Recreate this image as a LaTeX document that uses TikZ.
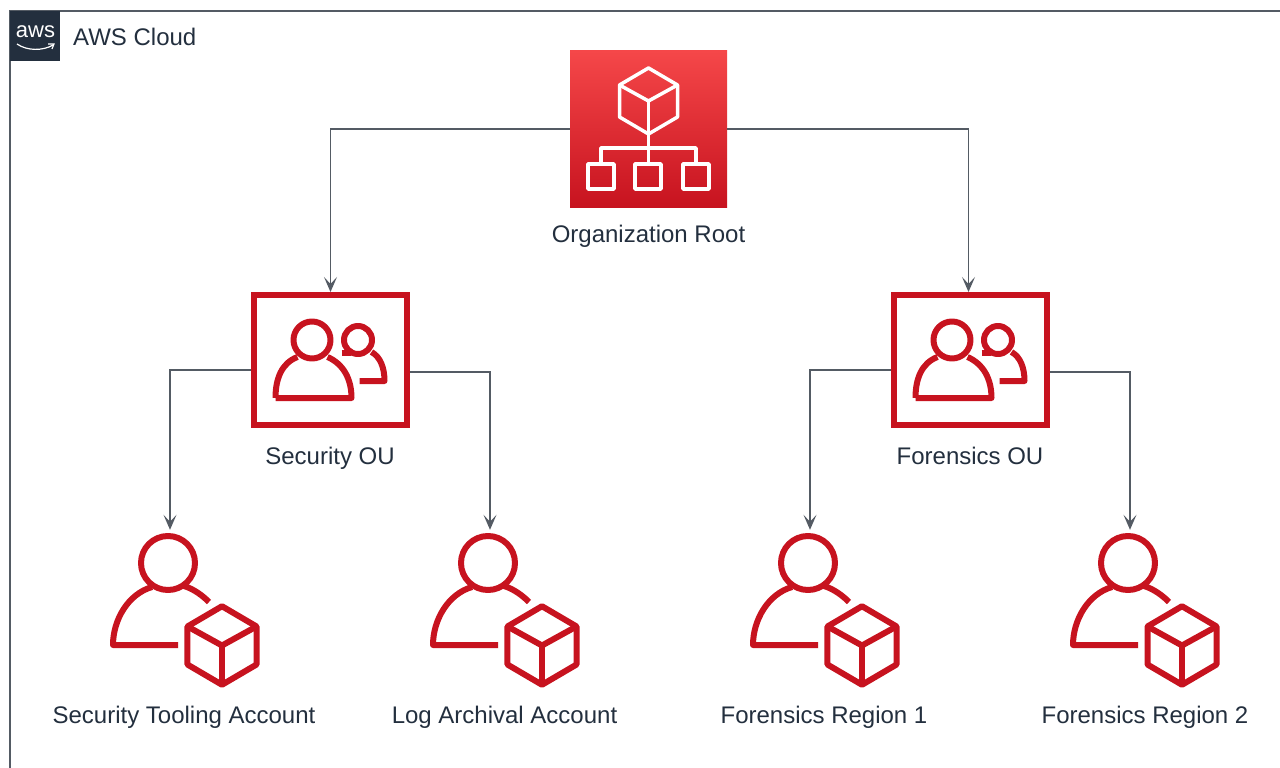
\documentclass[tikz,border=0pt]{standalone}
\usepackage{fontspec}
\setmainfont{Liberation Sans}
\usetikzlibrary{arrows.meta}
\definecolor{awsink}{HTML}{232F3E}
\definecolor{awsline}{HTML}{545B64}
\definecolor{awsred}{HTML}{C7131F}
\definecolor{awsredtop}{HTML}{F54749}
\tikzstyle{iconline} = [awsred,line width=6pt,line join=round]
\tikzstyle{iconlabel} = [anchor=base,inner sep=0pt,text=awsink,font=\fontsize{24}{28}\selectfont]
\tikzstyle{link} = [awsline,line width=1.3pt,-{Stealth[length=15pt,width=13pt,inset=7pt]}]
\newcommand{\cubeicon}[2][]{
 \begin{scope}[shift={(#2)},#1]
  \draw (0,-33) -- (29,-16) -- (29,16) -- (0,33) -- (-29,16) -- (-29,-16) -- cycle;
  \draw (-29,-16) -- (0,0) -- (29,-16);
  \draw (0,0) -- (0,33);
 \end{scope}
}
\newcommand{\ouicon}[2]{
 \node (#1) [draw=awsred,line width=6pt,minimum width=153pt,minimum height=130pt,inner sep=0pt] at (#2) {};
 \begin{scope}[shift={(#2)},iconline]
  \draw (-18.5,-20) circle (18.5);
  \draw (-55,38) -- (21,38) .. controls (21,19) and (13,4) .. (-3,-3);
  \draw (-55,38) .. controls (-55,19) and (-49,3) .. (-33,-3);
  \draw (27.5,-20) circle (14);
  \draw (11,-7) -- (20,-7);
  \draw (41,-8) .. controls (50,-3) and (54,8) .. (54,21) -- (29,21);
 \end{scope}
}
\newcommand{\accounticon}[2]{
 \node (#1) [minimum width=30pt,minimum height=158pt,inner sep=0pt] at (#2) {};
 \begin{scope}[shift={(#2)},iconline]
  \draw (-2,-46) circle (27);
  \draw (8,36) -- (-57,36) .. controls (-57,11) and (-42,-15) .. (-18,-22);
  \draw (14,-23) .. controls (24,-20) and (33,-13) .. (39,-7);
  \cubeicon[scale=1.19]{52,36.5}
 \end{scope}
}
\begin{document}
\begin{tikzpicture}[x=1pt,y=-1pt]
  \useasboundingbox (0,0) rectangle (1280,768);

  % cloud frame
  \draw[awsline,line width=2pt] (10,768) -- (10,11) -- (1280,11);
  \node (logo) [fill=awsink,minimum size=50pt,inner sep=0pt] at (35,36) {};
  \node (logotext) [anchor=base,inner sep=0pt,text=white,font=\fontsize{22}{24}\selectfont] at (35.5,38) {aws};
  \draw[white,line width=1.2pt] (17,44) .. controls (27,51) and (43,51) .. (53,45);
  \draw[white,line width=1.2pt] (48,44) -- (54,44) -- (52,49);
  \node[iconlabel,anchor=base west] (cloudlabel) at (73,46) {AWS Cloud};

  % organization root
  \node (root) [top color=awsredtop,bottom color=awsred,minimum width=157pt,minimum height=156pt,inner sep=0pt] at (648.5,129) {};
  \begin{scope}[white,line width=3.5pt,line join=round]
   \cubeicon{648.5,101}
   \draw (648.5,134) -- (648.5,163);
   \draw (601,163) -- (601,148) -- (696,148) -- (696,163);
   \draw (588,164) rectangle (614,189);
   \draw (635,164) rectangle (661,189);
   \draw (683,164) rectangle (709,189);
  \end{scope}
  \node[iconlabel] (rootlabel) at (648.5,242) {Organization Root};

  % organizational units
  \ouicon{secou}{330.5,360}
  \ouicon{forou}{970.5,360}
  \node[iconlabel] (seclabel) at (330,464) {Security OU};
  \node[iconlabel] (forlabel) at (970,464) {Forensics OU};

  % accounts
  \accounticon{tooling}{170,609}
  \accounticon{logs}{490,609}
  \accounticon{regionone}{810,609}
  \accounticon{regiontwo}{1130,609}
  \node[iconlabel] (toolinglabel) at (184,723) {Security Tooling Account};
  \node[iconlabel] (logslabel) at (504.5,723) {Log Archival Account};
  \node[iconlabel] (regiononelabel) at (824,723) {Forensics Region 1};
  \node[iconlabel] (regiontwolabel) at (1145,723) {Forensics Region 2};

  % links
  \draw[link] (root.west) -| (secou.north);
  \draw[link] (root.east) -| ([xshift=-2pt]forou.north);
  \draw[link] ([yshift=-10pt]secou.west) -| (tooling.north);
  \draw[link] ([yshift=-12pt]secou.east) -| (logs.north);
  \draw[link] ([yshift=-10pt]forou.west) -| (regionone.north);
  \draw[link] ([yshift=-12pt]forou.east) -| (regiontwo.north);
\end{tikzpicture}
\end{document}
